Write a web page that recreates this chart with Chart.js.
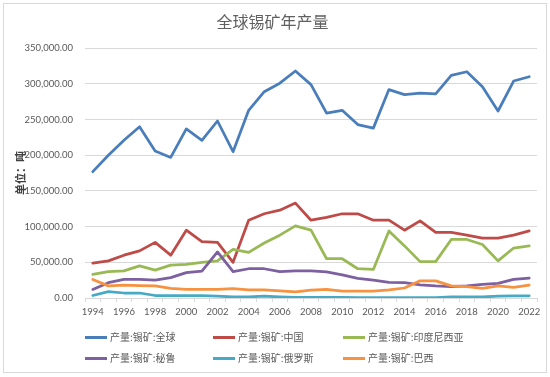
<!DOCTYPE html>
<html>
<head>
<meta charset="utf-8">
<script src="https://cdn.jsdelivr.net/npm/chart.js@4.4.1/dist/chart.umd.min.js"></script>
<style>
    html, body { margin: 0; padding: 0; background: #ffffff; }
    #wrap { position: relative; width: 550px; height: 377px; overflow: hidden; }
    #frame { position: absolute; left: 3px; top: 3px; width: 542px; height: 368px; border: 1px solid #d9d9d9; }
    #chart { position: absolute; left: 0; top: 0; }
    .leg { position: absolute; height: 14px; font-family: "Noto Sans CJK SC", sans-serif; font-size: 10px; color: #595959; white-space: nowrap; line-height: 14px; }
    .leg i { display: inline-block; width: 22px; height: 3px; vertical-align: middle; margin-right: 3px; position: relative; top: -1px; }
</style>
</head>
<body>
<div id="wrap">
    <div id="frame"></div>
    <canvas id="chart" width="550" height="330"></canvas>
    <div id="legend"></div>
</div>
<script>
const years = ['1994', '1995', '1996', '1997', '1998', '1999', '2000', '2001', '2002', '2003',
    '2004', '2005', '2006', '2007', '2008', '2009', '2010', '2011', '2012', '2013',
    '2014', '2015', '2016', '2017', '2018', '2019', '2020', '2021', '2022'];

const seriesNames = ['产量:锡矿:全球', '产量:锡矿:中国', '产量:锡矿:印度尼西亚',
    '产量:锡矿:秘鲁', '产量:锡矿:俄罗斯', '产量:锡矿:巴西'];

const globalOutput = [177000, 200000, 221000, 240000, 206000, 197000, 237000, 221000, 248000, 205000,
    263000, 289000, 301000, 318000, 299000, 259000, 263000, 243000, 238000, 292000,
    285000, 287000, 286000, 312000, 317000, 296000, 262000, 304000, 310000];
const chinaOutput = [49000, 52000, 60000, 66000, 78000, 60000, 95000, 79000, 78000, 50000,
    109000, 118000, 123000, 133000, 109000, 113000, 118000, 118000, 109000, 109000,
    95000, 108000, 92000, 92000, 88000, 84000, 84000, 88000, 94000];
const indonesiaOutput = [33000, 37000, 38000, 45000, 39000, 46000, 47000, 50000, 52000, 68000,
    64000, 77000, 88000, 101000, 95000, 55000, 55000, 41000, 40000, 94000,
    73000, 51000, 51000, 82000, 82000, 75000, 52000, 70000, 73000];
const peruOutput = [12000, 21500, 26000, 26000, 25000, 28500, 35500, 37500, 64500, 37000,
    41000, 41000, 37000, 38000, 38000, 36500, 32500, 27500, 25000, 22000,
    21500, 18500, 17000, 16000, 17000, 19000, 20500, 26000, 28000];
const russiaOutput = [3500, 9000, 7000, 7000, 3500, 3500, 3500, 3300, 2500, 1500,
    1500, 2500, 1500, 800, 800, 800, 800, 500, 500, 500,
    500, 500, 500, 1500, 1500, 1500, 2500, 3000, 3000];
const brazilOutput = [26000, 17000, 18000, 17500, 17000, 13500, 12000, 12000, 12000, 13000,
    11500, 11500, 10000, 8500, 11000, 12000, 9500, 9500, 9500, 11500,
    14000, 24000, 24000, 17000, 16000, 13500, 17000, 15000, 18000];

const lineColors = ['#4a7ebb', '#be4b48', '#98b954', '#7d60a0', '#46aac5', '#f69240'];
const allSeries = [globalOutput, chinaOutput, indonesiaOutput, peruOutput, russiaOutput, brazilOutput];

const numFont = 'Lato, "DejaVu Sans", sans-serif';
const cjkFont = '"Noto Sans CJK SC", sans-serif';

let datasets = allSeries.map((values, i) => ({
    label: seriesNames[i],
    data: values,
    borderColor: lineColors[i],
    backgroundColor: lineColors[i],
    // excel draws later series on top
    order: allSeries.length - i
}));

let chart = new Chart(document.getElementById('chart'), {
    type: 'line',
    data: {
        labels: years,
        datasets: datasets
    },
    options: {
        responsive: false,
        animation: false,
        layout: { padding: { left: 8, right: 13, top: 0, bottom: 2 } },
        elements: {
            point: { radius: 0 },
            line: { borderWidth: 2.75, tension: 0, borderCapStyle: 'round', borderJoinStyle: 'round' }
        },
        plugins: {
            legend: { display: false },
            tooltip: { enabled: false },
            title: {
                display: true,
                text: '全球锡矿年产量',
                color: '#606060',
                font: { family: cjkFont, size: 16, weight: 'normal' },
                padding: { top: 12, bottom: 17 }
            }
        },
        scales: {
            x: {
                offset: true,
                grid: { offset: true, drawOnChartArea: false, tickLength: 4, color: '#d9d9d9' },
                border: { display: true, color: '#d9d9d9' },
                ticks: {
                    autoSkip: false,
                    maxRotation: 0,
                    padding: 4,
                    color: '#595959',
                    font: { family: numFont, size: 9.5 },
                    callback: function (v, i) { return i % 2 === 0 ? years[i] : ''; }
                },
                afterFit: function (s) { s.height = 30; }
            },
            y: {
                min: 0,
                max: 350000,
                grid: { color: '#d9d9d9', drawTicks: false },
                border: { display: false },
                ticks: {
                    stepSize: 50000,
                    padding: 12,
                    color: '#595959',
                    font: { family: numFont, size: 9.5 },
                    callback: function (v) {
                        return v.toLocaleString('en-US', { minimumFractionDigits: 2, maximumFractionDigits: 2 });
                    }
                },
                title: {
                    display: true,
                    text: '单位：吨',
                    color: '#404040',
                    font: { family: cjkFont, size: 11, weight: 'bold' },
                    padding: { top: 6, bottom: 0 }
                },
                afterFit: function (s) { s.width = 77; }
            }
        }
    }
});

// legend in a fixed 3-column grid like excel
const legCols = [85, 213, 343];
const legRows = [330, 351];
chart.data.datasets.forEach((ds, i) => {
    let item = document.createElement('div');
    item.className = 'leg';
    item.style.left = legCols[i % 3] + 'px';
    item.style.top = legRows[Math.floor(i / 3)] + 'px';
    item.innerHTML = '<i style="background:' + ds.borderColor + '"></i>' + ds.label;
    document.getElementById('legend').appendChild(item);
});
</script>
</body>
</html>
